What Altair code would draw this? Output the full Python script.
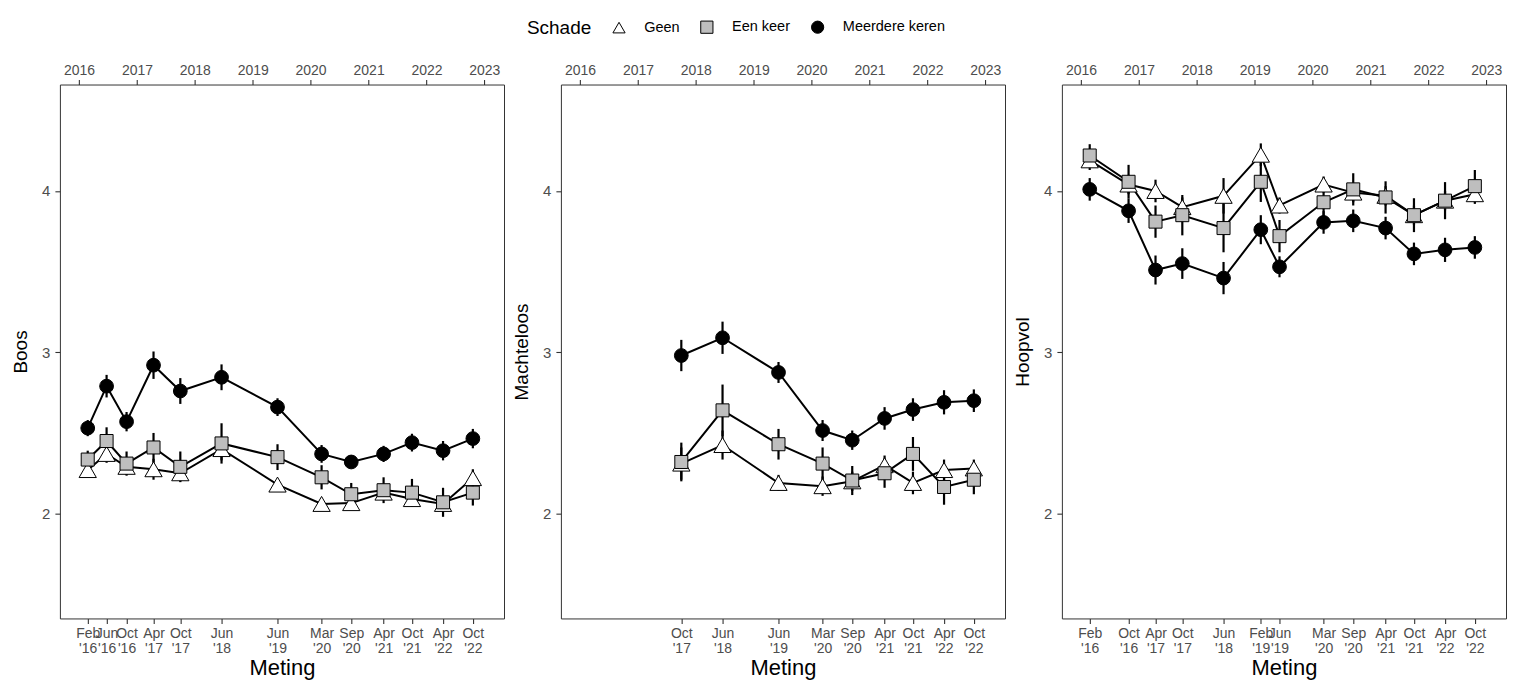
import altair as alt
import pandas as pd

SCHADE = ["Geen", "Een keer", "Meerdere keren"]
SHAPES = ["triangle-up", "square", "circle"]
FILLS = ["white", "#bebebe", "black"]

# ---- Boos ----
boos_dates = ["2016-02-25", "2016-06-23", "2016-10-27", "2017-04-15", "2017-10-01",
              "2018-06-18", "2019-06-06", "2020-03-10", "2020-09-13", "2021-04-05",
              "2021-10-01", "2022-04-15", "2022-10-20"]
boos_geen = [2.27, 2.37, 2.29, 2.275, 2.25, 2.40, 2.18, 2.06, 2.065, 2.13, 2.09, 2.06, 2.22]
boos_geen_err = [0.04, 0.055, 0.05, 0.065, 0.05, 0.07, 0.03, 0.03, 0.035, 0.04, 0.045, 0.05, 0.055]
boos_een = [2.335, 2.45, 2.31, 2.41, 2.29, 2.435, 2.35, 2.225, 2.12, 2.145, 2.13, 2.07, 2.13]
boos_een_err = [0.055, 0.085, 0.075, 0.09, 0.095, 0.125, 0.08, 0.075, 0.07, 0.08, 0.085, 0.09, 0.08]
boos_meer = [2.53, 2.79, 2.57, 2.92, 2.76, 2.845, 2.66, 2.37, 2.32, 2.37, 2.44, 2.39, 2.465]
boos_meer_err = [0.05, 0.07, 0.06, 0.085, 0.08, 0.08, 0.055, 0.055, 0.04, 0.05, 0.055, 0.06, 0.06]

# ---- Machteloos ----
macht_dates = ["2017-10-01", "2018-06-18", "2019-06-06", "2020-03-10", "2020-09-13",
               "2021-04-05", "2021-10-01", "2022-04-15", "2022-10-20"]
macht_geen = [2.31, 2.425, 2.19, 2.17, 2.20, 2.30, 2.19, 2.27, 2.28]
macht_geen_err = [0.10, 0.09, 0.05, 0.06, 0.06, 0.06, 0.07, 0.065, 0.055]
macht_een = [2.32, 2.64, 2.43, 2.31, 2.205, 2.25, 2.37, 2.165, 2.21]
macht_een_err = [0.12, 0.16, 0.095, 0.10, 0.09, 0.09, 0.105, 0.11, 0.09]
macht_meer = [2.98, 3.09, 2.875, 2.515, 2.455, 2.59, 2.645, 2.69, 2.70]
macht_meer_err = [0.097, 0.10, 0.065, 0.065, 0.06, 0.07, 0.07, 0.075, 0.07]

# ---- Hoopvol ----
hoop_dates = ["2016-02-25", "2016-10-27", "2017-04-15", "2017-10-01", "2018-06-18",
              "2019-02-08", "2019-06-06", "2020-03-10", "2020-09-13", "2021-04-05",
              "2021-10-01", "2022-04-15", "2022-10-20"]
hoop_geen = [4.19, 4.04, 4.00, 3.90, 3.97, 4.225, 3.91, 4.04, 3.99, 3.97, 3.85, 3.94, 3.98]
hoop_geen_err = [0.06, 0.06, 0.07, 0.06, 0.11, 0.07, 0.05, 0.05, 0.06, 0.06, 0.06, 0.06, 0.06]
hoop_een = [4.22, 4.057, 3.81, 3.85, 3.77, 4.057, 3.72, 3.93, 4.01, 3.96, 3.85, 3.94, 4.03]
hoop_een_err = [0.07, 0.105, 0.10, 0.125, 0.15, 0.125, 0.10, 0.09, 0.10, 0.10, 0.105, 0.115, 0.10]
hoop_meer = [4.01, 3.877, 3.51, 3.55, 3.46, 3.76, 3.53, 3.805, 3.815, 3.77, 3.61, 3.635, 3.65]
hoop_meer_err = [0.07, 0.075, 0.09, 0.095, 0.10, 0.09, 0.065, 0.07, 0.07, 0.07, 0.07, 0.075, 0.07]

year_ticks = list(range(2016, 2024))
y_ticks = [2, 3, 4]

FONT = "Liberation Sans"
W, H = 445, 535
SIZE_EXPR = "datum.Schade === 'Geen' ? 300 : (datum.Schade === 'Een keer' ? 170 : 190)"


def make_df(dates, series):
    rows = []
    for name, (vals, errs) in zip(SCHADE, series):
        for d, v, e in zip(dates, vals, errs):
            rows.append({"Meting": d + "T12:00:00", "Schade": name,
                         "waarde": v, "lo": v - e, "hi": v + e})
    return pd.DataFrame(rows)


def dt(s):
    y, m, d = (int(p) for p in s.split("-"))
    return alt.DateTime(year=y, month=m, date=d, hours=12)


legend = alt.Legend(
    orient="none", legendX=-34, legendY=-65, direction="horizontal",
    title="Schade", titleOrient="left", titleFontSize=19, titleFont=FONT,
    titleFontWeight="normal", titleColor="black", titlePadding=20,
    titleBaseline="middle",
    labelFont=FONT, labelFontSize=14.5, labelColor="black", labelOffset=18,
    columnPadding=19, symbolSize=150, symbolStrokeWidth=1,
)


def panel(df, dates, ytitle, show_legend):
    base = alt.Chart(df)
    xscale = alt.Scale(domain=[alt.DateTime(year=2015, month=9, date=3),
                               alt.DateTime(year=2023, month=5, date=5)])
    yscale = alt.Scale(domain=[1.35, 4.66], nice=False, zero=False)
    yaxis = alt.Axis(values=y_ticks, title=ytitle, tickSize=5, labelFontSize=15,
                     labelPadding=5, titlePadding=11)
    bottom_axis = alt.Axis(
        orient="bottom", values=[dt(d) for d in dates], title="Meting",
        labelExpr="[timeFormat(datum.value, '%b'), \"'\" + timeFormat(datum.value, '%y')]",
        labelOverlap=False, labelFlush=False, labelLineHeight=15,
        labelPadding=3, tickSize=5, titlePadding=2, labelBaseline="top",
        titleFontSize=22,
    )
    top_axis = alt.Axis(
        orient="top", values=[alt.DateTime(year=y, month=1, date=1) for y in year_ticks],
        format="%Y", title=None, labelOverlap=False, labelFlush=False,
        labelPadding=2, tickSize=5,
    )
    lg = legend if show_legend else None
    line = base.mark_line(color="black", strokeWidth=2).encode(
        x=alt.X("Meting:T", scale=xscale, axis=bottom_axis),
        y=alt.Y("waarde:Q", scale=yscale, axis=yaxis),
        detail="Schade:N",
    )
    err = base.mark_rule(color="black", strokeWidth=2.2).encode(
        x=alt.X("Meting:T", axis=None),
        y=alt.Y("lo:Q", axis=yaxis),
        y2="hi:Q",
    )
    pts = base.transform_calculate(sz=SIZE_EXPR).mark_point(
        filled=True, stroke="black", strokeWidth=1, opacity=1
    ).encode(
        x=alt.X("Meting:T", axis=top_axis),
        y=alt.Y("waarde:Q", axis=yaxis),
        shape=alt.Shape("Schade:N", scale=alt.Scale(domain=SCHADE, range=SHAPES), legend=lg),
        fill=alt.Fill("Schade:N", scale=alt.Scale(domain=SCHADE, range=FILLS), legend=lg),
        size=alt.Size("sz:Q", scale=None),
    )
    return alt.layer(line, err, pts).resolve_axis(x="independent").properties(width=W, height=H)


p1 = panel(make_df(boos_dates, [(boos_geen, boos_geen_err), (boos_een, boos_een_err),
                                (boos_meer, boos_meer_err)]), boos_dates, "Boos", False)
p2 = panel(make_df(macht_dates, [(macht_geen, macht_geen_err), (macht_een, macht_een_err),
                                 (macht_meer, macht_meer_err)]), macht_dates, "Machteloos", True)
p3 = panel(make_df(hoop_dates, [(hoop_geen, hoop_geen_err), (hoop_een, hoop_een_err),
                                (hoop_meer, hoop_meer_err)]), hoop_dates, "Hoopvol", False)

chart = alt.hconcat(p1, p2, p3, spacing=57, bounds="flush").resolve_legend(
    shape="independent", fill="independent"
).properties(
    padding={"left": 3, "top": 10, "right": 0, "bottom": 0}
).configure_view(
    stroke="#333333", strokeWidth=1
).configure_axis(
    labelFont=FONT, titleFont=FONT, labelFontSize=14, labelColor="#4d4d4d",
    titleFontSize=19, titleColor="black", titleFontWeight="normal",
    tickColor="#333333", tickWidth=1.1, domain=False, grid=False,
)

chart.save("out.html", embed_options={"renderer": "svg", "actions": False})
